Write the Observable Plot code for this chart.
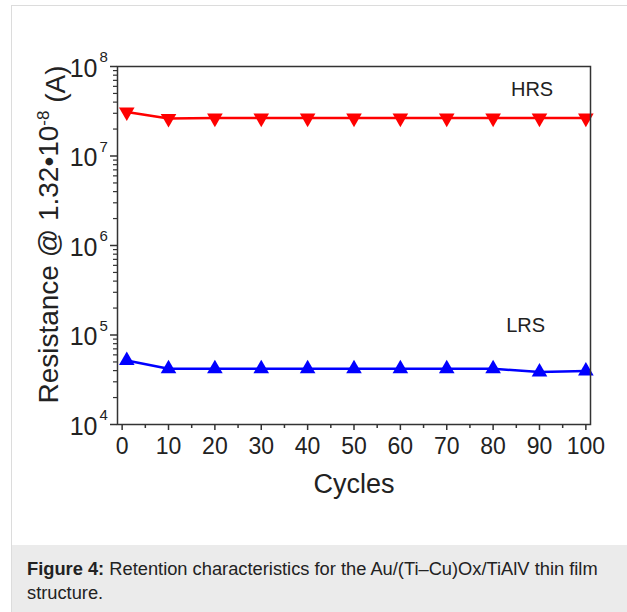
<!DOCTYPE html>
<html>
<head>
<meta charset="utf-8">
<script src="https://cdn.jsdelivr.net/npm/d3@7"></script>
<script src="https://cdn.jsdelivr.net/npm/@observablehq/plot@0.6"></script>
<style>
  html, body { margin: 0; padding: 0; background: #fff; }
  body { width: 627px; height: 612px; overflow: hidden; font-family: "Liberation Sans", Arial, sans-serif; }
  #wrap { position: absolute; left: 11px; top: 5px; width: 616px; height: 607px;
          border-left: 1px solid #dcdcdc; border-top: 1px solid #dcdcdc; }
  #chart svg { display: block; }
  #caption { position: absolute; left: 0; top: 539px; width: 616px; height: 68px;
             background: #ebebeb; box-sizing: border-box; padding: 12px 12px 0 15px;
             font-size: 18.3px; line-height: 24px; color: #222; }
</style>
</head>
<body>
<div id="wrap">
  <div id="chart"></div>
  <div id="caption"><b>Figure 4:</b> Retention characteristics for the Au/(Ti–Cu)Ox/TiAlV thin film structure.</div>
</div>
<script>
// ---- data ----
const cycles = [1, 10, 20, 30, 40, 50, 60, 70, 80, 90, 100];
const hrs = [3.1e7, 2.62e7, 2.65e7, 2.65e7, 2.65e7, 2.65e7, 2.65e7, 2.65e7, 2.65e7, 2.65e7, 2.65e7];
const lrs = [5.2e4, 4.2e4, 4.2e4, 4.2e4, 4.2e4, 4.2e4, 4.2e4, 4.2e4, 4.2e4, 3.85e4, 3.95e4];
const xTicks = [0, 10, 20, 30, 40, 50, 60, 70, 80, 90, 100];
const xMinorTicks = [5, 15, 25, 35, 45, 55, 65, 75, 85, 95];
const yExponents = [4, 5, 6, 7, 8];
const seriesNames = ["HRS", "LRS"];
const seriesColors = ["#ff0000", "#0000ff"];

const yTicks = yExponents.map(e => Math.pow(10, e));
const yMinorTicks = [];
for (const e of yExponents.slice(0, -1)) for (let m = 2; m <= 9; m++) yMinorTicks.push(m * Math.pow(10, e));

const hrsData = cycles.map((c, i) => ({cycle: c, value: hrs[i]}));
const lrsData = cycles.map((c, i) => ({cycle: c, value: lrs[i]}));

const font = "Liberation Sans, Arial, sans-serif";

const chart = Plot.plot({
  width: 616,
  height: 539,
  marginLeft: 105,
  marginRight: 38,
  marginTop: 60,
  marginBottom: 121,
  style: {fontFamily: font, background: "#fff", color: "#222"},
  x: {domain: [-1, 101]},
  y: {type: "log", domain: [1e4, 1e8]},
  marks: [
    // axes
    Plot.axisX(xTicks, {tickSize: 6, tickPadding: 7, fontSize: 23, stroke: "#333", strokeWidth: 1.5, label: null, fill: "#222"}),
    Plot.axisX(xMinorTicks, {tickSize: 4, tickFormat: () => "", stroke: "#333", strokeWidth: 1.5, label: null}),
    Plot.axisY(yTicks, {tickSize: 7, tickFormat: () => "", stroke: "#333", strokeWidth: 1.5, label: null}),
    Plot.axisY(yMinorTicks, {tickSize: 4, tickFormat: () => "", stroke: "#333", strokeWidth: 1.2, label: null}),
    // y tick labels 10^n
    Plot.text(yTicks, {y: d => d, frameAnchor: "left", dx: -20, dy: 2, text: () => "10", textAnchor: "end", fontSize: 25, fill: "#222"}),
    Plot.text(yTicks, {y: d => d, frameAnchor: "left", dx: -18, dy: -9, text: d => String(Math.round(Math.log10(d))), textAnchor: "start", fontSize: 15, fill: "#222"}),
    // series
    Plot.line(hrsData, {x: "cycle", y: "value", stroke: seriesColors[0], strokeWidth: 2.5}),
    Plot.dot(hrsData, {x: "cycle", y: "value", symbol: "triangle", rotate: 180, r: 5.8, fill: seriesColors[0], stroke: "none"}),
    Plot.line(lrsData, {x: "cycle", y: "value", stroke: seriesColors[1], strokeWidth: 2.5}),
    Plot.dot(lrsData, {x: "cycle", y: "value", symbol: "triangle", r: 5.8, fill: seriesColors[1], stroke: "none"}),
    // series labels
    Plot.text([seriesNames[0]], {x: 88.4, y: 5.58e7, text: d => d, fontSize: 20, fill: "#222"}),
    Plot.text([seriesNames[1]], {x: 87, y: 1.28e5, text: d => d, fontSize: 20, fill: "#222"}),
    // axis titles
    Plot.text(["Cycles"], {frameAnchor: "bottom", dy: 68, text: d => d, fontSize: 27, fill: "#222"}),
    Plot.text(["Resistance @ 1.32•10"], {frameAnchor: "left", dx: -68, dy: -11, rotate: -90, textAnchor: "middle", text: d => d, fontSize: 28, fill: "#222", className: "ylabel"}),
    Plot.frame({stroke: "#333", strokeWidth: 1.5})
  ]
});
document.getElementById("chart").appendChild(chart);

// add superscript to the y title
d3.select(chart).selectAll(".ylabel text").each(function() {
  const t = d3.select(this);
  const base = t.text();
  t.text(null);
  t.append("tspan").text(base);
  t.append("tspan").attr("dy", "-0.55em").attr("font-size", "17px").text("-8");
  t.append("tspan").attr("dy", "0.55em").text(" (A)");
});
</script>
</body>
</html>
